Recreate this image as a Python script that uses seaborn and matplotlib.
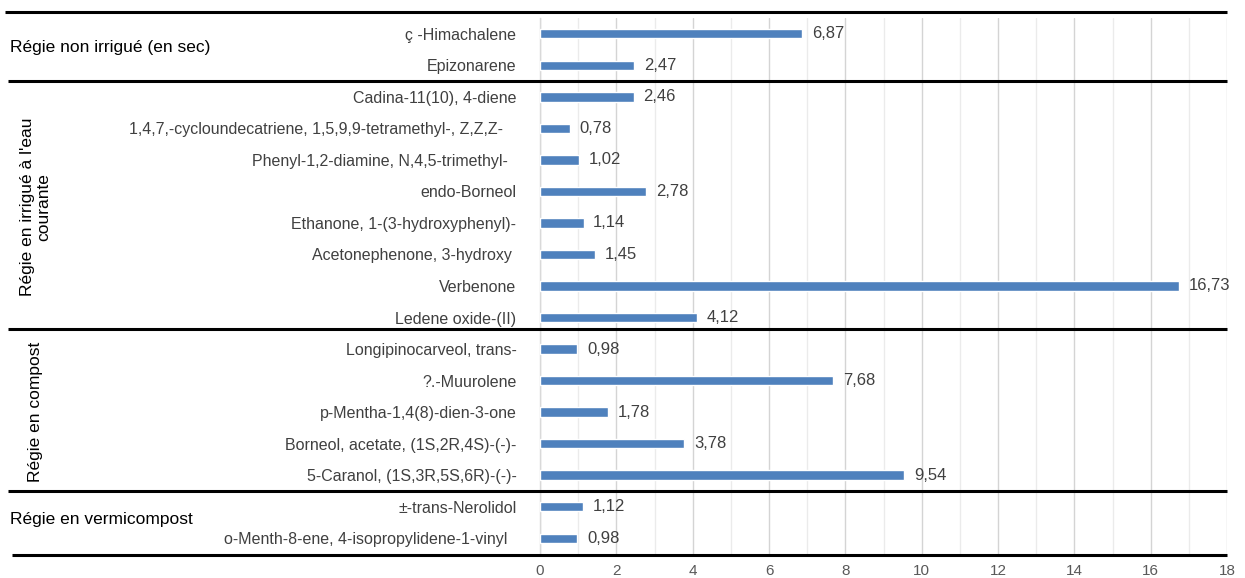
import matplotlib
matplotlib.use("Agg")
import matplotlib.pyplot as plt
import matplotlib.transforms as mtransforms
from matplotlib.ticker import MultipleLocator
import seaborn as sns
import pandas as pd

# Compounds (top to bottom) and their relative abundance (%)
compounds = [
    "ç -Himachalene",
    "Epizonarene",
    "Cadina-11(10), 4-diene",
    "1,4,7,-cycloundecatriene, 1,5,9,9-tetramethyl-, Z,Z,Z-   ",
    "Phenyl-1,2-diamine, N,4,5-trimethyl-  ",
    "endo-Borneol",
    "Ethanone, 1-(3-hydroxyphenyl)-",
    "Acetonephenone, 3-hydroxy ",
    "Verbenone",
    "Ledene oxide-(II)",
    "Longipinocarveol, trans-",
    "?.-Muurolene",
    "p-Mentha-1,4(8)-dien-3-one",
    "Borneol, acetate, (1S,2R,4S)-(-)-",
    "5-Caranol, (1S,3R,5S,6R)-(-)-",
    "±-trans-Nerolidol",
    "o-Menth-8-ene, 4-isopropylidene-1-vinyl  ",
]
values = [6.87, 2.47, 2.46, 0.78, 1.02, 2.78, 1.14, 1.45, 16.73, 4.12,
          0.98, 7.68, 1.78, 3.78, 9.54, 1.12, 0.98]

# Management groups: label, first row, last row
group_names = ["Régie non irrigué (en sec)",
               "Régie en irrigué à l'eau\ncourante",
               "Régie en compost",
               "Régie en vermicompost"]
group_rows = [(0, 1), (2, 9), (10, 14), (15, 16)]
group_rotated = [False, True, True, False]

xticks = list(range(0, 19, 2))

df = pd.DataFrame({"compound": compounds, "value": values})

sns.set_theme(style="white")
plt.rcParams["font.family"] = ["Liberation Sans", "DejaVu Sans"]

W, H = 1245, 578
fig = plt.figure(figsize=(W / 100, H / 100), dpi=100)
ax = fig.add_axes([540 / W, 1 - 554 / H, (1227 - 540) / W, (554 - 18) / H])

bar_color = "#4f81bd"
sns.barplot(data=df, x="value", y="compound", order=compounds, orient="h",
            color=bar_color, width=0.3, saturation=1, ax=ax, zorder=3)

ax.set_xlim(0, 18)
ax.set_ylim(16.5, -0.5)
ax.set_xlabel("")
ax.set_ylabel("")

# grid: light lines every unit, slightly darker at labelled ticks
ax.xaxis.set_major_locator(MultipleLocator(2))
ax.xaxis.set_minor_locator(MultipleLocator(1))
ax.set_xticks(xticks)
ax.grid(axis="x", which="major", color="#d4d4d4", linewidth=1, zorder=0)
ax.grid(axis="x", which="minor", color="#ebebeb", linewidth=1, zorder=0)
ax.set_axisbelow(True)

for s in ["top", "right", "bottom"]:
    ax.spines[s].set_visible(False)
ax.spines["left"].set_color("#d9d9d9")
ax.spines["left"].set_linewidth(1)

ax.tick_params(axis="x", which="both", length=0, labelsize=11,
               labelcolor="#595959", pad=7)
ax.tick_params(axis="y", which="major", length=0, labelsize=11.5,
               labelcolor="#404040", pad=17)
# short tick marks at the row boundaries
ax.set_yticks([i + 0.5 for i in range(-1, 17)], minor=True)
ax.tick_params(axis="y", which="minor", length=4, color="#d9d9d9", width=1,
               direction="out")

# value labels with decimal comma
labels = [f"{v:.2f}".replace(".", ",") for v in values]
ax.bar_label(ax.containers[0], labels=labels, padding=7, fontsize=12,
             color="#404040")

# group separators spanning the label area and the plot
trans = mtransforms.blended_transform_factory(fig.transFigure, ax.transData)
separators = [(-0.69, 5), (1.5, 8), (9.35, 8), (14.5, 8), (16.53, 12)]
for yv, x0 in separators:
    ax.plot([x0 / W, 1227 / W], [yv, yv], transform=trans, color="black",
            linewidth=2.2, clip_on=False, zorder=5, solid_capstyle="butt")

# group labels
for name, (r0, r1), rot in zip(group_names, group_rows, group_rotated):
    yc = (r0 + r1) / 2
    if rot:
        ax.text(36 / W, yc, name, transform=trans, rotation=90, ha="center",
                va="center", multialignment="center", fontsize=12.5,
                color="black", linespacing=1.1)
    else:
        ax.text(10 / W, yc - 0.08, name, transform=trans, ha="left",
                va="center", fontsize=12.5, color="black")

fig.savefig("out.png", dpi=100)
